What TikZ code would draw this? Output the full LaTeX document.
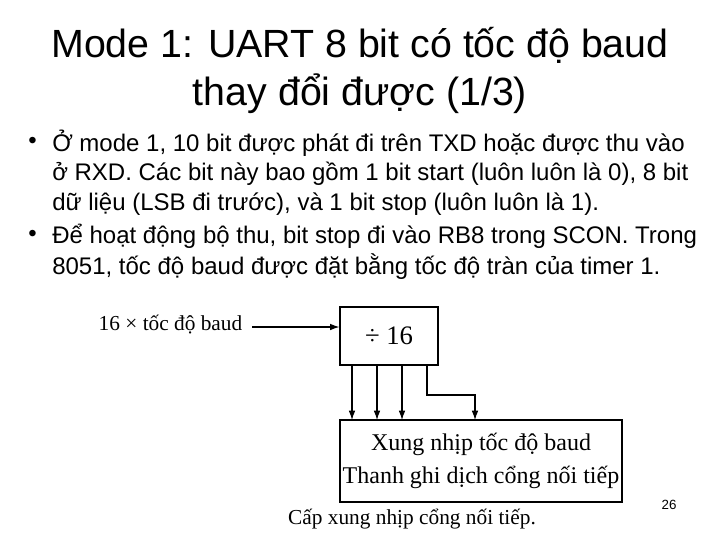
\documentclass[tikz,border=0pt]{standalone}
\usepackage{fontspec}
\usetikzlibrary{arrows.meta}
\setmainfont{Liberation Sans}
\newfontfamily\dia{Liberation Serif}
\begin{document}
\begin{tikzpicture}[x=0.75pt,y=-0.75pt,
  tl/.style={anchor=center,font=\fontsize{29.5}{33}\selectfont},
  bl/.style={anchor=west,font=\fontsize{18}{21}\selectfont,inner sep=0pt},
  bx/.style={draw,line width=1pt,inner sep=0pt},
  dt/.style={font=\dia\fontsize{16}{19}\selectfont},
  ar/.style={-{Latex[length=7pt,width=5pt]},line width=0.8pt}]
\useasboundingbox (0,0) rectangle (720,540);
\node[tl] (t1) at (360,45) {Mode 1: UART 8 bit có tốc độ baud};
\node[tl] (t2) at (360,94) {thay đổi được (1/3)};
\node[bl] (b1) at (28,143) {•};
\node[bl] (l1) at (52,143) {Ở mode 1, 10 bit được phát đi trên TXD hoặc được thu vào};
\node[bl] (l2) at (52,174) {ở RXD. Các bit này bao gồm 1 bit start (luôn luôn là 0), 8 bit};
\node[bl] (l3) at (52,204) {dữ liệu (LSB đi trước), và 1 bit stop (luôn luôn là 1).};
\node[bl] (b2) at (28,236) {•};
\node[bl] (l4) at (52,236) {Để hoạt động bộ thu, bit stop đi vào RB8 trong SCON. Trong};
\node[bl] (l5) at (52,267) {8051, tốc độ baud được đặt bằng tốc độ tràn của timer 1.};
% diagram
\node[bx,minimum width=98*0.75pt,minimum height=58*0.75pt,font=\dia\fontsize{20}{22}\selectfont] (div) at (389,336) {÷ 16};
\node[bx,minimum width=282*0.75pt,minimum height=82*0.75pt,font=\dia\fontsize{18}{21}\selectfont,align=center] (sr) at (481,461)
  {Xung nhịp tốc độ baud\\[4pt]Thanh ghi dịch cổng nối tiếp};
\node[dt,anchor=east] (in) at (247,325) {16 × tốc độ baud};
\draw[ar] (252,327) -- (252,327 -| div.west);
\draw[ar] (352,365) -- (352,420);
\draw[ar] (377,365) -- (377,420);
\draw[ar] (402,365) -- (402,420);
\draw[ar] (427,365) -- (427,395) -- (475,395) -- (475,420);
\node[dt] (cap) at (412,519) {Cấp xung nhịp cổng nối tiếp.};
\node[font=\fontsize{10}{12}\selectfont] (pg) at (669,505) {26};
\end{tikzpicture}
\end{document}
